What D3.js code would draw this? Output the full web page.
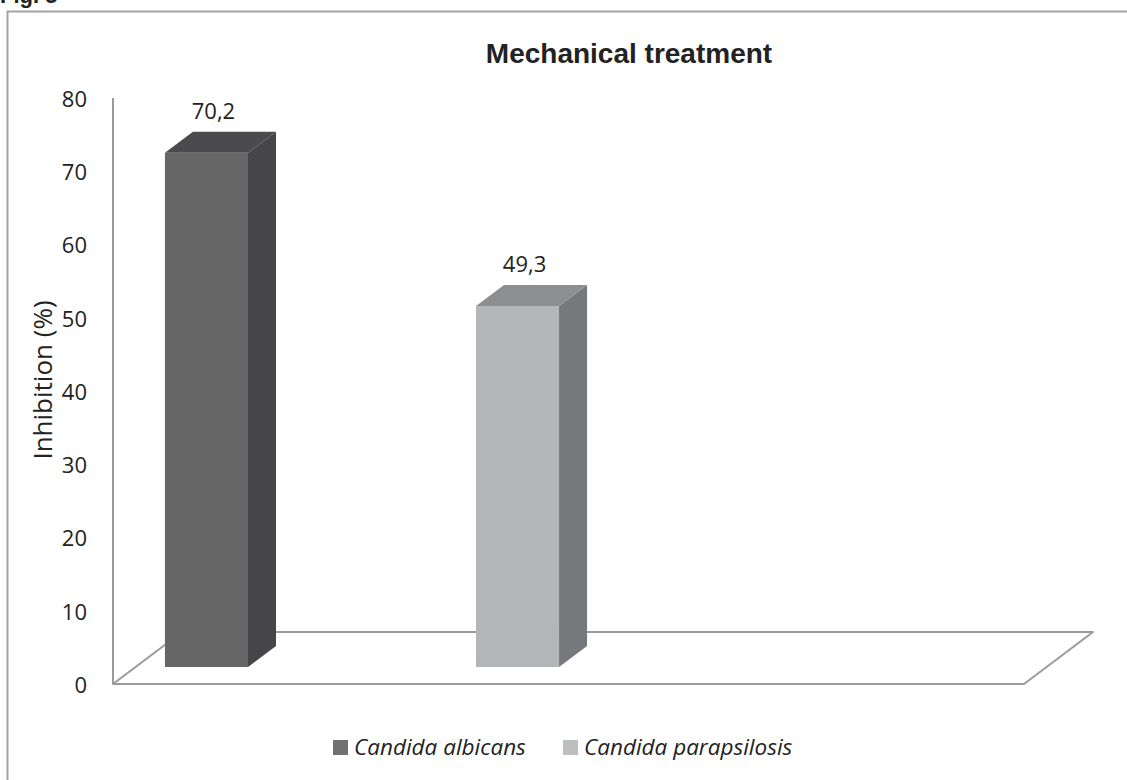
<!DOCTYPE html>
<html><head><meta charset="utf-8">
<script src="https://cdn.jsdelivr.net/npm/d3@7"></script>
<style>body{margin:0;background:#fff}</style>
</head><body>
<svg id="c" width="1127" height="780"></svg>
<script>
const categories = ["Candida albicans", "Candida parapsilosis"];
const values = [70.2, 49.3];
const valueLabels = ["70,2", "49,3"];
const yTicks = [0, 10, 20, 30, 40, 50, 60, 70, 80];
const frontColors = ["#666667", "#b4b5b8"];
const sideColors = ["#464648", "#77787b"];
const topColors = ["#4b4b4d", "#8d8e90"];
const legendColors = ["#717173", "#bdbec0"];

const svg = d3.select("#c");
const font = "'Open Sans', sans-serif";

// frame (right and bottom edges lie outside the picture)
svg.append("rect").attr("x", 7.5).attr("y", 11.5).attr("width", 1140).attr("height", 790)
  .attr("fill", "none").attr("stroke", "#a3a3a3").attr("stroke-width", 2);

svg.append("text").attr("x", 0).attr("y", 3).attr("font-family", "'Liberation Sans', Arial, sans-serif")
  .attr("font-weight", "bold").attr("font-size", 22).attr("fill", "#222").text("Fig. 5");

const y = d3.scaleLinear().domain([0, 80]).range([684, 98]);
const x = d3.scaleBand().domain(categories).range([113, 611]).paddingInner(0.733).paddingOuter(0.167);

const floorRight = 1024, fdx = 69, fdy = -52;
const barOffset = -17, bdx = 28, bdy = -21;
const axisColor = "#9a9a9c";

// floor
const y0 = y(0);
svg.append("path")
  .attr("d", `M${113},${y0} L${floorRight},${y0} L${floorRight + fdx},${y0 + fdy} L${113 + fdx},${y0 + fdy} Z`)
  .attr("fill", "none").attr("stroke", axisColor).attr("stroke-width", 2).attr("stroke-linejoin", "round");
// vertical axis
svg.append("line").attr("x1", 113).attr("x2", 113).attr("y1", y(80)).attr("y2", y0)
  .attr("stroke", axisColor).attr("stroke-width", 2);

// tick labels
svg.append("g").selectAll("text").data(yTicks).join("text")
  .attr("x", 87).attr("y", d => y(d) + 1).attr("dy", "0.36em").attr("text-anchor", "end")
  .attr("font-family", font).attr("font-size", 22).attr("fill", "#222").text(d => d);

// bars
const bars = svg.append("g").selectAll("g").data(categories).join("g");
bars.each(function(c, i) {
  const g = d3.select(this);
  const x0 = x(c), w = x.bandwidth();
  const yb = y(0) + barOffset, yt = y(values[i]) + barOffset;
  g.append("rect").attr("x", x0).attr("y", yt).attr("width", w).attr("height", yb - yt).attr("fill", frontColors[i]);
  g.append("path").attr("d", `M${x0 + w},${yt} L${x0 + w + bdx},${yt + bdy} L${x0 + w + bdx},${yb + bdy} L${x0 + w},${yb} Z`).attr("fill", sideColors[i]);
  g.append("path").attr("d", `M${x0},${yt} L${x0 + bdx},${yt + bdy} L${x0 + w + bdx},${yt + bdy} L${x0 + w},${yt} Z`).attr("fill", topColors[i]);
  g.append("text").attr("x", x0 + w / 2 + 7).attr("y", yt + bdy - 13).attr("text-anchor", "middle")
    .attr("font-family", font).attr("font-size", 22).attr("fill", "#222").text(valueLabels[i]);
});

// title
svg.append("text").attr("x", 629).attr("y", 63).attr("text-anchor", "middle")
  .attr("font-family", "'Liberation Sans', Arial, sans-serif").attr("font-weight", "bold").attr("font-size", 28)
  .attr("fill", "#222").text("Mechanical treatment");

// y title
svg.append("text").attr("transform", "translate(52,380) rotate(-90)").attr("text-anchor", "middle")
  .attr("font-family", font).attr("font-size", 26).attr("fill", "#222").text("Inhibition (%)");

// legend
const legX = [333, 563];
const leg = svg.append("g").selectAll("g").data(categories).join("g")
  .attr("transform", (d, i) => `translate(${legX[i]},740)`);
leg.append("rect").attr("width", 15).attr("height", 15).attr("fill", (d, i) => legendColors[i]);
leg.append("text").attr("x", 21).attr("y", 15).attr("font-family", font)
  .attr("font-style", "italic").attr("font-size", 22.5).attr("fill", "#222").text(d => d);
</script>
</body></html>
